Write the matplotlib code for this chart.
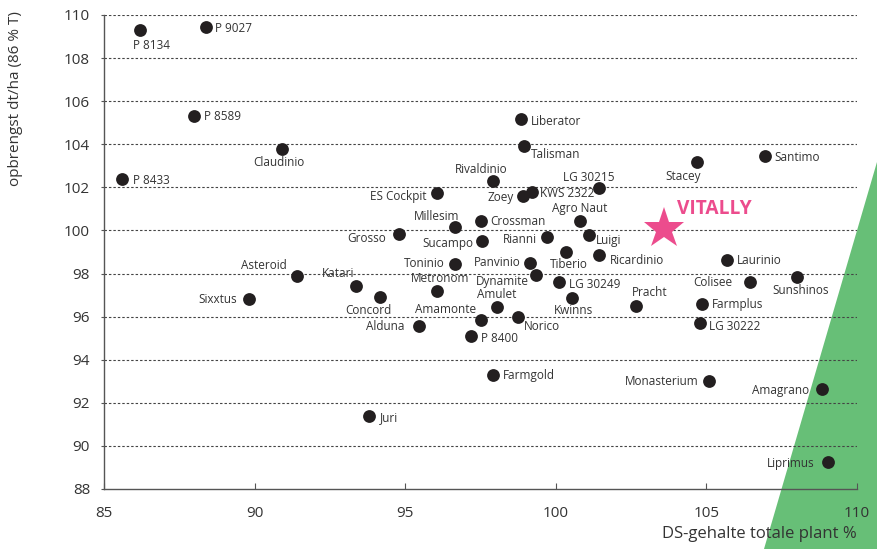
import matplotlib
matplotlib.use("Agg")
import matplotlib.pyplot as plt
from matplotlib.patches import Polygon

plt.rcParams['font.family'] = ['Open Sans', 'DejaVu Sans']

# ---------------- data ----------------
names = ["P 8134", "P 9027", "P 8589", "Claudinio", "P 8433", "ES Cockpit", "Liberator",
         "Talisman", "Rivaldinio", "Zoey", "KWS 2322", "LG 30215", "Crossman", "Millesim",
         "Agro Naut", "Grosso", "Sucampo", "Rianni", "Luigi", "Tiberio", "Ricardinio",
         "Toninio", "Panvinio", "Asteroid", "Katari", "Sixxtus", "Concord", "Metronom",
         "Dynamite", "LG 30249", "Amulet", "Kwinns", "Pracht", "Amamonte", "Norico",
         "Alduna", "P 8400", "Farmgold", "Juri", "Stacey", "Santimo", "Laurinio",
         "Colisee", "Sunshinos", "Farmplus", "LG 30222", "Monasterium", "Amagrano",
         "Liprimus"]
ds = [86.2, 88.4, 88.0, 90.9, 85.6, 96.05, 98.85,
      98.95, 97.9, 98.9, 99.2, 101.45, 97.5, 96.65,
      100.8, 94.8, 97.55, 99.7, 101.1, 100.35, 101.45,
      96.65, 99.15, 91.4, 93.35, 89.8, 94.15, 96.05,
      99.35, 100.1, 98.05, 100.55, 102.65, 97.5, 98.75,
      95.45, 97.2, 97.9, 93.8, 104.7, 106.95, 105.7,
      106.45, 108.0, 104.85, 104.8, 105.1, 108.85,
      109.05]
yield_ = [109.3, 109.45, 105.3, 103.8, 102.4, 101.75, 105.15,
          103.9, 102.3, 101.6, 101.8, 101.95, 100.45, 100.15,
          100.45, 99.85, 99.5, 99.7, 99.8, 99.0, 98.85,
          98.45, 98.5, 97.9, 97.4, 96.8, 96.9, 97.2,
          97.95, 97.6, 96.45, 96.85, 96.5, 95.85, 96.0,
          95.55, 95.1, 93.3, 91.4, 103.2, 103.45, 98.65,
          97.6, 97.85, 96.6, 95.7, 93.0, 92.65,
          89.25]
vitally_name = "VITALLY"
vitally_ds = 103.6
vitally_yield = 100.05

xticks = [85, 90, 95, 100, 105, 110]
yticks = [88, 90, 92, 94, 96, 98, 100, 102, 104, 106, 108, 110]

# label placement (style): side, dx px, dy px (down positive)
place = {
    "P 8134": ("c", 11, 15), "P 9027": ("l", 9, 2), "P 8589": ("l", 9.5, 0),
    "Claudinio": ("c", -3, 14), "P 8433": ("l", 11, 1.5), "ES Cockpit": ("r", -10.7, 4),
    "Liberator": ("l", 9.5, 2), "Talisman": ("l", 7, 8), "Rivaldinio": ("c", -11, -11),
    "Zoey": ("r", -9, 2), "KWS 2322": ("l", 8.5, 2), "LG 30215": ("c", -11, -11),
    "Crossman": ("l", 10, 1), "Millesim": ("c", -18, -10.6), "Agro Naut": ("c", 0, -12),
    "Grosso": ("r", -13, 5), "Sucampo": ("r", -8.4, 2), "Rianni": ("r", -10, 3),
    "Luigi": ("l", 7, 6), "Tiberio": ("c", 2, 12), "Ricardinio": ("l", 10, 5),
    "Toninio": ("r", -10, 0), "Panvinio": ("r", -10, 0), "Asteroid": ("r", -10, -10),
    "Katari": ("c", -17, -13), "Sixxtus": ("r", -12, 0), "Concord": ("c", -11, 13),
    "Metronom": ("c", 3, -12), "Dynamite": ("r", -7, 7), "LG 30249": ("l", 10.6, 2),
    "Amulet": ("c", 0, -12), "Kwinns": ("c", 1, 12), "Pracht": ("c", 14, -13),
    "Amamonte": ("r", -4.4, -10.7), "Norico": ("l", 6, 10), "Alduna": ("r", -14.7, 0),
    "P 8400": ("l", 10, 2), "Farmgold": ("l", 10, 1), "Juri": ("l", 10.7, 2),
    "Stacey": ("c", -14, 15), "Santimo": ("l", 9, 1), "Laurinio": ("l", 9, 1),
    "Colisee": ("r", -18, 0), "Sunshinos": ("c", 4, 14), "Farmplus": ("l", 10, 1),
    "LG 30222": ("l", 9, 3), "Monasterium": ("r", -11, 0), "Amagrano": ("r", -13, 2),
    "Liprimus": ("r", -13.7, 1),
}

DPI = 100
W, H = 877, 549
fig = plt.figure(figsize=(W / DPI, H / DPI), dpi=DPI, facecolor="white")

# green triangle in figure pixel space
tri = Polygon([(877 / W, 1 - 162 / H), (764 / W, 0), (1, 0)], closed=True,
              transform=fig.transFigure, facecolor="#67bf77", edgecolor="none", zorder=-1)
fig.patches.append(tri)

ax = fig.add_axes([104 / W, 1 - 489 / H, (857 - 104) / W, (489 - 15) / H])
ax.set_facecolor("none")
ax.set_xlim(85, 110)
ax.set_ylim(88, 110)
ax.set_xticks(xticks)
ax.set_yticks(yticks)

for s in ["top", "right"]:
    ax.spines[s].set_visible(False)
for s in ["left", "bottom"]:
    ax.spines[s].set_color("#555555")
    ax.spines[s].set_linewidth(1.0)

ax.tick_params(axis="x", direction="in", length=4, color="#555555", labelsize=11,
               pad=12, labelcolor="#333333")
ax.tick_params(axis="y", direction="out", length=2, color="#555555", labelsize=11,
               pad=8, labelcolor="#333333")

for yv in yticks[1:]:
    ax.axhline(yv, color="#444444", lw=0.8, ls=(0, (2.2, 1.8)), zorder=1)

ax.scatter(ds, yield_, s=85, color="#231f20", zorder=3, linewidths=0)

PT = 72 / DPI
for n, xv, yv in zip(names, ds, yield_):
    side, dx, dy = place[n]
    ha = {"c": "center", "l": "left", "r": "right"}[side]
    ax.annotate(n, (xv, yv), xytext=(dx * PT, -dy * PT), textcoords="offset points",
                ha=ha, va="center", fontsize=8.5, color="#333333", zorder=4)

ax.plot([vitally_ds], [vitally_yield], marker="*", ms=31, color="#ec4c8d",
        markeredgewidth=0, zorder=5, linestyle="none")
ax.annotate(vitally_name, (vitally_ds, vitally_yield), xytext=(12.6 * PT, 20 * PT),
            textcoords="offset points", ha="left", va="center", fontsize=13.8,
            fontweight="bold", color="#ec4c8d", zorder=5)

ax.set_xlabel("DS-gehalte totale plant %", fontsize=12, color="#333333", loc="right")
ax.xaxis.set_label_coords(1.0, -0.095)
ax.xaxis.label.set_va("center")
ax.set_ylabel("opbrengst dt/ha (86 % T)", fontsize=11, color="#333333", loc="top")
ax.yaxis.set_label_coords(-0.108, 1.008)

fig.savefig("out.png", dpi=DPI, facecolor="white")
